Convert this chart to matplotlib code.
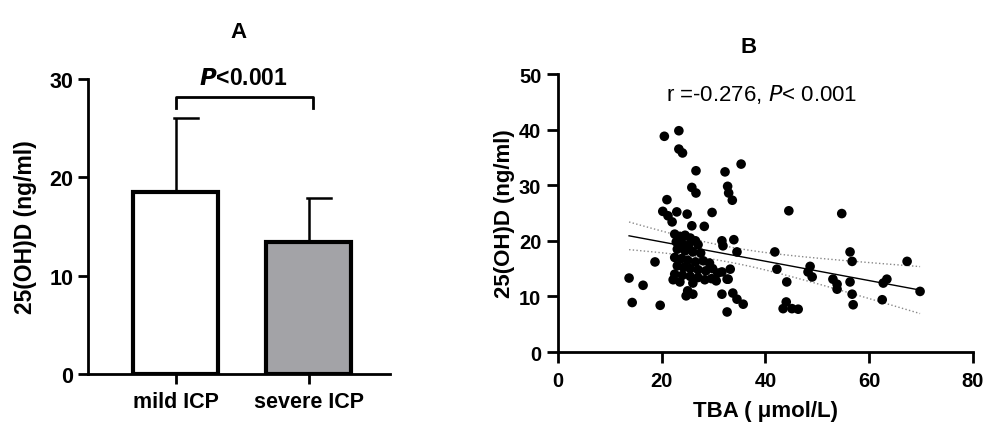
import numpy as np
import matplotlib
matplotlib.use("Agg")
import matplotlib.pyplot as plt

plt.rcParams['font.family'] = ['Liberation Sans', 'DejaVu Sans']

# panel A
groups = ['mild ICP', 'severe ICP']
means = [18.5, 13.4]
sds = [7.5, 4.5]
bar_colors = ['white', '#a3a3a7']

# panel B (TBA, 25(OH)D)
tba = [20.5, 23.3, 23.3, 24.0, 26.6, 32.2, 35.3, 25.8, 26.6, 32.7, 32.9, 33.6,
       21.0, 20.2, 21.2, 22.9, 24.9, 22.0, 29.7, 25.8, 28.2, 44.5, 54.7,
       22.5, 23.5, 24.5, 25.5, 26.5, 22.8, 24.0, 25.2, 27.0, 23.0, 24.5, 26.0,
       27.5, 22.5, 23.8, 25.0, 26.5, 28.0, 29.2, 23.0, 24.2, 25.5, 27.0, 28.5,
       29.8, 22.5, 24.0, 25.5, 27.0, 28.3, 29.6, 22.2, 23.5, 26.0, 30.5, 30.8,
       31.6, 31.8, 33.9, 34.5, 32.6, 31.6, 33.2, 32.8,
       25.0, 24.7, 26.0, 31.6, 33.7, 34.5, 35.7, 32.6, 18.7, 13.7, 16.4, 14.3, 19.7,
       41.8, 42.2, 44.1, 44.0, 43.4, 45.1, 46.3, 48.6, 48.2, 49.0, 53.0, 53.8,
       53.8, 56.3, 56.3, 56.7, 56.7, 56.9, 62.7, 63.4, 62.5, 67.3, 69.8]
vitd = [38.8, 39.8, 36.5, 35.8, 32.6, 32.4, 33.8, 29.6, 28.6, 29.8, 28.6, 27.3,
        27.4, 25.3, 24.5, 25.2, 24.8, 23.4, 25.1, 22.7, 22.6, 25.4, 24.9,
        21.2, 20.8, 21.0, 20.5, 20.0, 19.8, 19.5, 19.2, 19.3, 18.5, 18.2, 18.0,
        17.8, 17.0, 16.8, 16.5, 16.2, 16.4, 16.0, 15.5, 15.2, 15.0, 14.8, 14.6,
        15.0, 14.0, 13.8, 13.6, 13.4, 13.0, 13.2, 13.0, 12.6, 12.4, 12.8, 14.2,
        20.0, 19.1, 20.2, 18.0, 13.1, 14.4, 14.9, 13.1,
        11.0, 10.1, 10.4, 10.4, 10.6, 9.5, 8.6, 7.2, 16.2, 13.3, 12.0, 8.9, 8.4,
        18.0, 14.9, 12.6, 9.0, 7.8, 7.8, 7.7, 15.4, 14.4, 13.5, 13.1, 12.2,
        11.3, 12.6, 18.0, 16.3, 10.4, 8.5, 12.4, 13.1, 9.4, 16.3, 10.9]

fig = plt.figure(figsize=(9.85, 4.27), dpi=100)

# ---- A ----
axA = fig.add_axes([0.0893, 0.1218, 0.3066, 0.691])
xpos = np.arange(len(groups))
axA.bar(xpos, means, width=0.64, color=bar_colors, edgecolor='black', linewidth=3, zorder=3)
axA.errorbar(xpos, means, yerr=[np.zeros(2), sds], fmt='none', ecolor='black',
             elinewidth=1.8, capsize=0, zorder=2)
tops = np.array(means) + np.array(sds)
for x, t in zip(xpos, tops):
    axA.plot([x - 0.01, x + 0.165], [t, t], color='black', lw=1.8, zorder=2)
axA.set_xlim(-0.66, 1.61)
axA.set_ylim(0, 30)
axA.set_yticks([0, 10, 20, 30])
axA.set_xticks(xpos)
axA.set_xticklabels(groups)
axA.spines['top'].set_visible(False)
axA.spines['right'].set_visible(False)
for s in ['left', 'bottom']:
    axA.spines[s].set_linewidth(2)
axA.tick_params(width=2, length=7.5, labelsize=15.5, pad=3)
axA.tick_params(axis='x', pad=5)
for lab in axA.get_xticklabels() + axA.get_yticklabels():
    lab.set_fontweight('bold')
axA.set_ylabel('25(OH)D (ng/ml)', fontsize=16.5, fontweight='bold', labelpad=9)
axA.set_title('A', fontsize=16, fontweight='bold', pad=30)
# significance bracket
bx = [xpos[0], xpos[0], xpos[1] + 0.03, xpos[1] + 0.03]
by = [27.0, 28.2, 28.2, 27.0]
axA.plot(bx, by, color='black', lw=2, clip_on=False)
axA.text(np.mean(xpos) + 0.01, 29.0, r'$\bfit{P}$<0.001', ha='center', va='bottom',
         fontsize=16.5, fontweight='bold')

# ---- B ----
axB = fig.add_axes([0.5665, 0.1733, 0.4213, 0.651])
axB.scatter(tba, vitd, s=48, color='black', edgecolors='none', zorder=3)
xs = np.array(tba)
ys = np.array(vitd)
slope, icpt = np.polyfit(xs, ys, 1)
n = len(xs)
resid = ys - (slope * xs + icpt)
se = np.sqrt(np.sum(resid ** 2) / (n - 2))
xg = np.linspace(xs.min(), xs.max(), 100)
yg = slope * xg + icpt
ci = 1.98 * se * np.sqrt(1 / n + (xg - xs.mean()) ** 2 / np.sum((xs - xs.mean()) ** 2))
axB.plot(xg, yg, color='black', lw=1, zorder=2)
axB.plot(xg, yg + ci, color='#888888', lw=1, ls=':', zorder=2)
axB.plot(xg, yg - ci, color='#888888', lw=1, ls=':', zorder=2)
axB.set_xlim(0, 80)
axB.set_ylim(0, 50)
axB.set_xticks([0, 20, 40, 60, 80])
axB.set_yticks([0, 10, 20, 30, 40, 50])
axB.spines['top'].set_visible(False)
axB.spines['right'].set_visible(False)
for s in ['left', 'bottom']:
    axB.spines[s].set_linewidth(2)
axB.tick_params(width=2, length=8, labelsize=14.5, pad=4)
axB.tick_params(axis='x', pad=6)
for lab in axB.get_xticklabels() + axB.get_yticklabels():
    lab.set_fontweight('bold')
axB.set_xlabel('TBA ( μmol/L)', fontsize=16, fontweight='bold', labelpad=7)
axB.set_ylabel('25(OH)D (ng/ml)', fontsize=16, fontweight='bold', labelpad=3)
axB.set_title('B', fontsize=16, fontweight='bold', pad=16, x=0.46)
axB.text(39.3, 46.5, r'r =-0.276, $\it{P}$< 0.001', ha='center', va='center', fontsize=16)

fig.savefig('out.png', dpi=100)
